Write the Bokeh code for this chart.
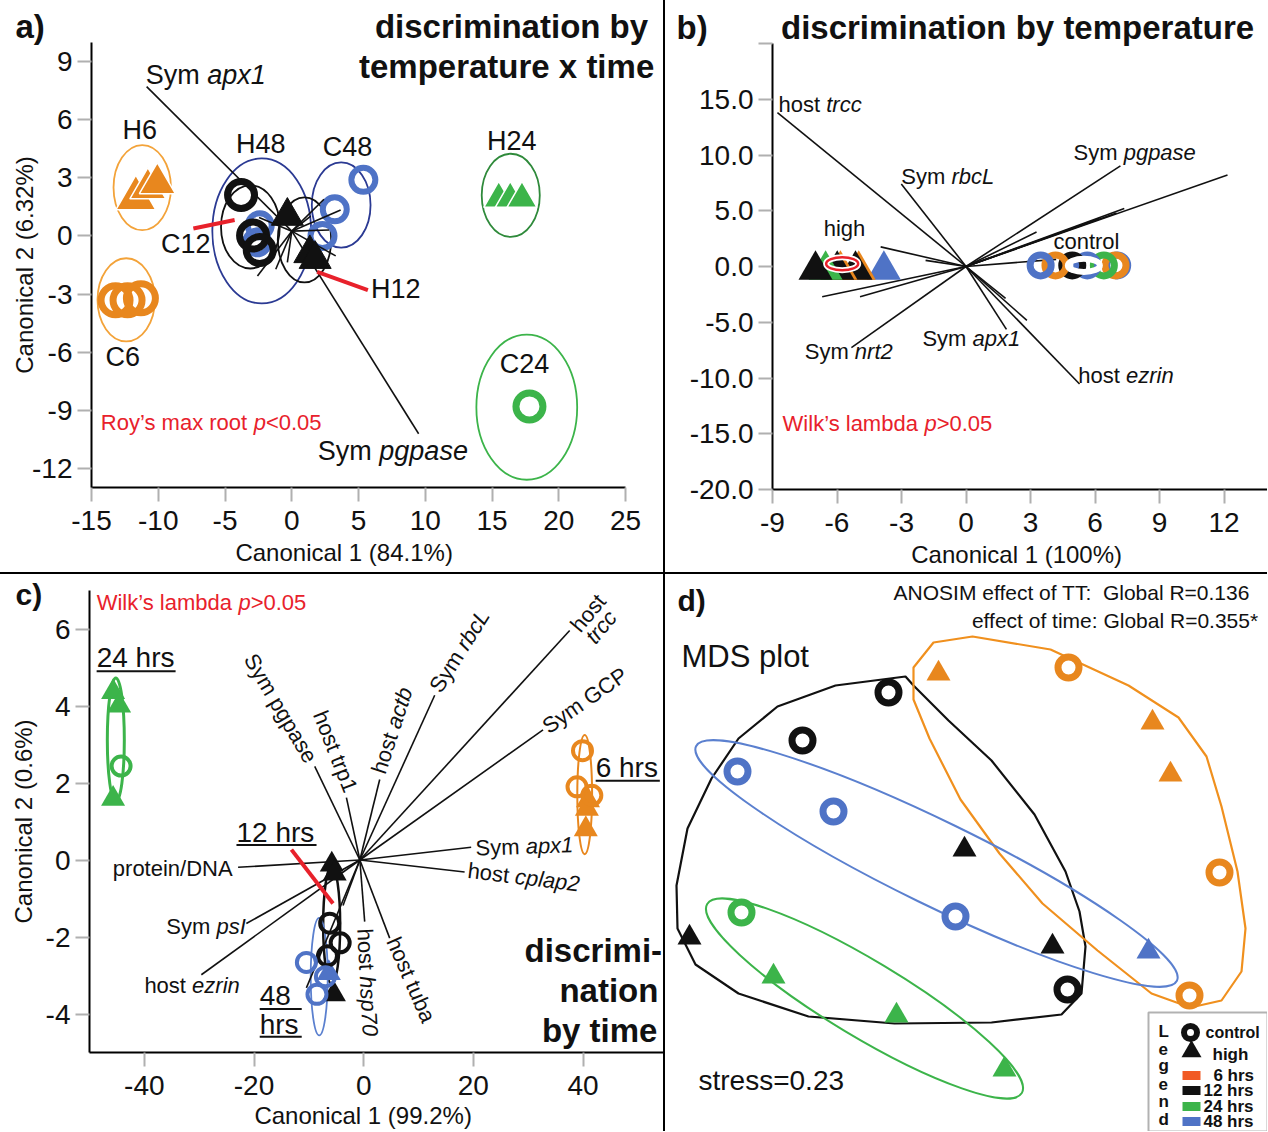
import math
from bokeh.plotting import figure
from bokeh.models import Label, Range1d, FixedTicker, BoxAnnotation, Div, LinearAxis
from bokeh.layouts import row, column
from bokeh.embed import file_html
from bokeh.resources import INLINE

FONT = "Liberation Sans"
BLACK = "#111111"
ORANGE = "#e8871e"
ORANGE_LINE = "#f3a33a"
GREEN = "#3cb44a"
GREEN_DARK = "#2f8a3b"
BLUE = "#4f73c6"
NAVY = "#2b3a93"
LBLUE = "#5b80cf"
RED = "#e8212b"
TICK = "#b0b0b0"
TIME_COLOR = {"6 hrs": ORANGE, "12 hrs": BLACK, "24 hrs": GREEN, "48 hrs": BLUE}

# ---------------- panel a data ----------------
A_XTICKS = [-15, -10, -5, 0, 5, 10, 15, 20, 25]
A_YTICKS = [-12, -9, -6, -3, 0, 3, 6, 9]
A_H6_X = [-11.68, -10.78, -10.07]
A_H6_Y = [1.95, 2.46, 2.72]
A_C6_X = [-13.2, -12.3, -11.3]
A_C6_Y = [-3.32, -3.32, -3.22]
A_C48_X = [3.22, 5.36, 2.3, -2.4, -2.6]
A_C48_Y = [1.38, 2.9, 0.0, 0.55, -0.33]
A_C12_X = [-3.8, -2.9, -2.4]
A_C12_Y = [2.12, 0.02, -0.73]
A_H12_X = [-0.33, 1.35, 1.75]
A_H12_Y = [1.03, -0.9, -1.2]
A_H24_X = [15.5, 16.36, 17.24]
A_H24_Y = [1.93, 1.93, 1.93]
A_C24_X = [17.8]
A_C24_Y = [-8.81]
A_ELL_GROUP = ["H6", "C6", "H48", "C48", "C12", "H12", "H24", "C24"]
A_ELL_X = [-11.2, -12.4, -2.25, 3.7, -3.1, 0.95, 16.4, 17.6]
A_ELL_Y = [2.5, -3.3, 0.26, 1.6, 0.47, -0.2, 2.1, -8.85]
A_ELL_W = [4.3, 4.3, 7.4, 4.4, 4.4, 4.0, 4.35, 7.55]
A_ELL_H = [4.4, 4.3, 7.5, 4.4, 4.3, 4.4, 4.3, 7.5]
A_ORIGIN = (0.0, 0.25)
A_VEC_X = [-10.87, 9.5, 2.41, 3.66, 2.79, 3.29, -2.45, -2.57, -1.2, -0.33, 1.42]
A_VEC_Y = [7.72, -10.22, 1.9, 1.34, 0.31, -1.03, 0.95, -2.07, -1.72, -1.37, 1.03]
A_PTR_X0 = [-7.37, 1.9]
A_PTR_Y0 = [0.39, -1.86]
A_PTR_X1 = [-4.28, 5.7]
A_PTR_Y1 = [0.83, -2.8]

# ---------------- panel b data ----------------
B_XTICKS = [-9, -6, -3, 0, 3, 6, 9, 12]
B_YTICKS = [-20, -15, -10, -5, 0, 5, 10, 15, 20]
B_YLABELS = ["-20.0", "-15.0", "-10.0", "-5.0", "0.0", "5.0", "10.0", "15.0", ""]
B_HIGH_X = [-3.82, -4.99, -5.14, -5.84, -5.99, -6.53, -7.0]
B_HIGH_T = ["48 hrs", "6 hrs", "12 hrs", "6 hrs", "12 hrs", "24 hrs", "12 hrs"]
B_HIGH_Y = [-0.3] * 7
B_CTRL_X = [7.03, 6.95, 6.41, 5.64, 4.94, 4.16, 3.47]
B_CTRL_T = ["48 hrs", "6 hrs", "24 hrs", "48 hrs", "12 hrs", "6 hrs", "48 hrs"]
B_CTRL_Y = [0.1] * 7
B_VEC_X = [-8.77, -3.01, 7.18, 12.16, 7.36, 7.0, 6.2, 3.28, 4.19, -3.97, -1.88, -6.69, -4.93,
           -5.33, 1.88, 5.28, 2.83, 1.84]
B_VEC_Y = [13.8, 7.4, 9.02, 8.21, 5.21, 4.8, 4.3, 3.09, 0.64, 1.76, 0.55, -2.72, -2.72,
           -7.28, -5.64, -10.54, -4.83, -2.86]

# ---------------- panel c data ----------------
C_XTICKS = [-40, -20, 0, 20, 40]
C_YTICKS = [-4, -2, 0, 2, 4, 6]
C_TRI_X = [-45.7, -44.6, -45.7, 40.7, 40.5, 40.9, -5.82, -5.29, -5.43, -6.36]
C_TRI_Y = [4.36, 4.01, 1.59, 1.33, 0.8, 1.55, -0.12, -0.35, -3.49, -2.94]
C_TRI_T = ["24 hrs"] * 3 + ["6 hrs"] * 3 + ["12 hrs"] * 3 + ["48 hrs"]
C_CIR_X = [-44.24, 39.9, 38.9, 41.6, -6.2, -4.29, -6.6, -10.45, -8.52, -6.98]
C_CIR_Y = [2.44, 2.84, 1.9, 1.68, -1.64, -2.15, -2.49, -2.66, -3.49, -3.03]
C_CIR_T = ["24 hrs"] + ["6 hrs"] * 3 + ["12 hrs"] * 3 + ["48 hrs"] * 3
C_ELL_T = ["24 hrs", "6 hrs", "12 hrs", "48 hrs"]
C_ELL_X = [-45.2, 40.3, -5.84, -8.11]
C_ELL_Y = [3.12, 1.7, -1.69, -3.03]
C_ELL_W = [3.1, 2.7, 3.1, 3.1]
C_ELL_H = [3.22, 3.1, 3.05, 3.05]
C_ORIGIN = (-0.7, 0.0)
C_VEC_X = [-8.93, -3.15, 2.92, 12.95, 37.56, 32.7, 19.6, 18.4, -22.9, -21.4, -29.6, 0.18, 4.74, -3.77, -10.45]
C_VEC_Y = [2.43, 1.62, 2.09, 4.28, 5.96, 3.38, 0.33, -0.31, -0.19, -1.65, -2.98, -1.6, -2.03, -1.18, -3.32]
C_PTR = [(-13.18, 0.27), (-5.6, -1.13)]

# ---------------- panel d data (MDS) ----------------
D_CIR_X = [-0.72, -1.58, 1.07, 1.08, 2.59, 2.29, -2.23, -1.27, -0.05, -2.19]
D_CIR_Y = [1.38, 0.90, -1.59, 1.63, -0.42, -1.65, 0.59, 0.19, -0.86, -0.82]
D_CIR_T = ["12 hrs"] * 3 + ["6 hrs"] * 3 + ["48 hrs"] * 3 + ["24 hrs"]
D_TRI_X = [0.04, 0.92, -2.71, -0.22, 1.92, 2.10, 1.88, -1.87, -0.64, 0.44]
D_TRI_Y = [-0.19, -1.16, -1.07, 1.57, 1.08, 0.56, -1.21, -1.46, -1.85, -2.39]
D_TRI_T = ["12 hrs"] * 3 + ["6 hrs"] * 3 + ["48 hrs"] + ["24 hrs"] * 3
D_HULL12_X = [-0.55, -1.25, -1.83, -2.22, -2.49, -2.73, -2.84, -2.83, -2.65, -2.22, -1.52, -0.66,
              0.31, 1.01, 1.21, 1.25, 1.19, 1.05, 0.74, 0.31, -0.12, -0.47]
D_HULL12_Y = [1.54, 1.45, 1.24, 0.92, 0.52, 0.02, -0.55, -0.98, -1.34, -1.63, -1.86, -1.93,
              -1.92, -1.84, -1.63, -1.16, -0.81, -0.41, 0.16, 0.70, 1.10, 1.45]
D_HULL6_X = [-0.47, -0.27, 0.12, 0.90, 1.68, 2.18, 2.46, 2.61, 2.77, 2.85, 2.81, 2.61, 2.30,
             1.91, 1.37, 0.82, 0.39, 0.00, -0.31, -0.47]
D_HULL6_Y = [1.63, 1.88, 1.94, 1.81, 1.45, 1.13, 0.74, 0.24, -0.41, -0.98, -1.41, -1.70, -1.77,
             -1.63, -1.20, -0.73, -0.23, 0.31, 0.92, 1.31]
D_ELL_T = ["48 hrs", "24 hrs"]
D_ELL_X = [-0.24, -0.96]
D_ELL_Y = [-0.33, -1.68]
D_ELL_W = [5.35, 3.67]
D_ELL_H = [0.84, 0.76]
D_ELL_A = [-26.0, -31.0]
LEGEND_TIMES = ["6 hrs", "12 hrs", "24 hrs", "48 hrs"]

# ---------------- helpers ----------------
CW = {' ': .278, 'a': .556, 'b': .556, 'c': .5, 'd': .556, 'e': .556, 'f': .278, 'g': .556,
      'h': .556, 'i': .222, 'j': .222, 'k': .5, 'l': .222, 'm': .833, 'n': .556, 'o': .556,
      'p': .556, 'q': .556, 'r': .333, 's': .5, 't': .278, 'u': .556, 'v': .5, 'w': .722,
      'x': .5, 'y': .5, 'z': .5, 'A': .667, 'B': .667, 'C': .722, 'D': .722, 'E': .667,
      'G': .778, 'H': .722, 'I': .278, 'L': .556, 'M': .833, 'N': .722, 'O': .778, 'P': .667,
      'R': .722, 'S': .667, 'T': .611, 'W': .944, '.': .278, '-': .333, '(': .333, ')': .333,
      '%': .889, '/': .278, '<': .584, '>': .584, '=': .584, '*': .389, ':': .278, '\u2019': .222,
      '\u00a0': .278}
NBSP = "\u00a0"


def tw(s, size, bold=False):
    return sum(CW.get(c, .556) for c in s) * size * (1.06 if bold else 1.0)


def rich(p, x, y, segs, size, color=BLACK, align="left", angle=0.0, bold=False):
    widths = [tw(t, size, bold) for t, _ in segs]
    total = sum(widths)
    off = {"left": 0.0, "center": -total / 2, "right": -total}[align]
    a = math.radians(angle)
    for (t, it), w in zip(segs, widths):
        style = ("bold " if bold else "") + ("italic" if it else "")
        style = style.strip() or "normal"
        p.add_layout(Label(x=x, y=y, text=t, x_offset=off * math.cos(a), y_offset=off * math.sin(a),
                           angle=a, text_align="left", text_baseline="middle", text_font=FONT,
                           text_font_size=f"{size}px", text_font_style=style, text_color=color))
        off += w


def txt(p, x, y, s, size, color=BLACK, align="left", angle=0.0, bold=False):
    rich(p, x, y, [(s, False)], size, color, align, angle, bold)


def base_fig(w, h, xr, yr, lb, rb, tb, bb, axes=True):
    kw = {}
    if not axes:
        kw = dict(x_axis_type=None, y_axis_type=None)
    p = figure(width=w, height=h, x_range=Range1d(*xr), y_range=Range1d(*yr),
               output_backend="svg", toolbar_location=None,
               min_border_left=lb, min_border_right=rb, min_border_top=tb, min_border_bottom=bb, **kw)
    p.frame_align = False
    p.grid.visible = False
    p.outline_line_color = None
    p.background_fill_color = "white"
    p.border_fill_color = "white"
    return p


def style_axes(p, xt, xl, yt, yl):
    p.xaxis.ticker = FixedTicker(ticks=xt)
    p.yaxis.ticker = FixedTicker(ticks=yt)
    p.xaxis.major_label_overrides = dict(zip(xt, xl))
    p.yaxis.major_label_overrides = dict(zip(yt, yl))
    for ax in (p.xaxis[0], p.yaxis[0]):
        ax.axis_line_color = "black"
        ax.axis_line_width = 2
        ax.major_tick_line_color = TICK
        ax.major_tick_line_width = 2
        ax.major_tick_out = 14
        ax.major_tick_in = 0
        ax.minor_tick_line_color = None
        ax.major_label_text_font = FONT
        ax.major_label_text_font_size = "28px"
        ax.major_label_text_color = BLACK
        ax.major_label_standoff = 5
        ax.axis_label_text_font = FONT
        ax.axis_label_text_font_size = "24px"
        ax.axis_label_text_font_style = "normal"
        ax.axis_label_text_color = BLACK
    p.xaxis.major_label_standoff = 9


def label_axis(p, side, text, bounds, standoff):
    ax = LinearAxis(ticker=FixedTicker(ticks=[]), bounds=bounds, axis_label=text,
                    axis_line_color=None, major_tick_line_color=None, minor_tick_line_color=None,
                    major_tick_out=0, major_tick_in=0, major_label_standoff=0,
                    axis_label_standoff=standoff, axis_label_text_font=FONT,
                    axis_label_text_font_size="24px", axis_label_text_font_style="normal",
                    axis_label_text_color=BLACK)
    p.add_layout(ax, side)


def set_title(p, text, size, offset, standoff):
    p.title.text = text
    p.title.align = "left"
    p.title.offset = offset
    p.title.standoff = standoff
    p.title.vertical_align = "bottom"
    p.title.text_font = FONT
    p.title.text_font_size = f"{size}px"
    p.title.text_font_style = "bold"
    p.title.text_color = BLACK


# ================= panel a =================
pa = base_fig(663, 572, (-15, 27.84), (-13, 10), 91, 0, 42, 85)
style_axes(pa, A_XTICKS, [str(v) for v in A_XTICKS], A_YTICKS, [str(v) for v in A_YTICKS])
pa.xaxis.bounds = (-15, 25)
pa.yaxis.bounds = (-13, 10)
pa.yaxis.axis_label = "Canonical 2 (6.32%)"
pa.yaxis.axis_label_standoff = -9
label_axis(pa, "below", "Canonical 1 (84.1%)" + NBSP * 10, (-15, 25), 6)
set_title(pa, "a)" + NBSP * 36 + "discrimination by", 33, -76, -4)

ell_col_a = {"H6": ORANGE_LINE, "C6": ORANGE_LINE, "H48": NAVY, "C48": NAVY, "C12": BLACK,
             "H12": BLACK, "H24": GREEN_DARK, "C24": GREEN}
pa.ellipse(A_ELL_X, A_ELL_Y, width=A_ELL_W, height=A_ELL_H, fill_color=None,
           line_color=[ell_col_a[g] for g in A_ELL_GROUP], line_width=1.8)
pa.scatter(A_C48_X, A_C48_Y, marker="circle", size=24, fill_color=None, line_color=BLUE, line_width=6)
pa.segment([A_ORIGIN[0]] * len(A_VEC_X), [A_ORIGIN[1]] * len(A_VEC_Y), A_VEC_X, A_VEC_Y,
           line_color=BLACK, line_width=1.6)
pa.scatter(A_C12_X, A_C12_Y, marker="circle", size=27, fill_color=None, line_color=BLACK, line_width=7)
pa.scatter(A_H12_X, A_H12_Y, marker="triangle", size=32, fill_color=BLACK, line_color=BLACK)
pa.scatter(A_H6_X, A_H6_Y, marker="triangle", size=[40, 36, 36], fill_color=ORANGE,
           line_color="white", line_width=1.5)
pa.scatter(A_C6_X, A_C6_Y, marker="circle", size=29, fill_color=None, line_color=ORANGE, line_width=7)
pa.scatter(A_H24_X, A_H24_Y, marker="triangle", size=30, fill_color=GREEN, line_color="white",
           line_width=1.5)
pa.scatter(A_C24_X, A_C24_Y, marker="circle", size=27, fill_color=None, line_color=GREEN, line_width=7)
pa.segment(A_PTR_X0, A_PTR_Y0, A_PTR_X1, A_PTR_Y1, line_color=RED, line_width=4)

txt(pa, 26.87, 8.77, "temperature x time", 33, align="right", bold=True)
rich(pa, -10.94, 8.3, [("Sym ", False), ("apx1", True)], 27)
rich(pa, 1.95, -11.12, [("Sym ", False), ("pgpase", True)], 27)
for name, lx, ly in [("H6", -11.38, 5.46), ("C6", -12.66, -6.27), ("H48", -2.33, 4.74),
                     ("C48", 4.18, 4.58), ("C12", -7.94, -0.43), ("H12", 7.78, -2.75),
                     ("H24", 16.47, 4.89), ("C24", 17.43, -6.63)]:
    txt(pa, lx, ly, name, 27, align="center")
rich(pa, -14.3, -9.63, [("Roy\u2019s max root ", False), ("p", True), ("<0.05", False)], 22, color=RED)

# ================= panel b =================
pb = base_fig(602, 572, (-9, 14.02), (-20, 20), 107, 0, 43, 83)
style_axes(pb, B_XTICKS, [str(v) for v in B_XTICKS], B_YTICKS, B_YLABELS)
pb.xaxis.axis_label = "Canonical 1 (100%)" + NBSP
pb.xaxis.axis_label_standoff = 6
set_title(pb, "b)" + NBSP * 8 + "discrimination by temperature", 33, -96, -4)

pb.segment([0] * len(B_VEC_X), [0] * len(B_VEC_Y), B_VEC_X, B_VEC_Y, line_color=BLACK, line_width=1.6)
pb.scatter(B_HIGH_X, B_HIGH_Y, marker="triangle", size=34,
           fill_color=[TIME_COLOR[t] for t in B_HIGH_T], line_color=None)
pb.ellipse([-5.76], [0.25], width=1.49, height=1.17, fill_color=None, line_color="white", line_width=6)
pb.ellipse([-5.76], [0.25], width=1.49, height=1.17, fill_color=None, line_color=RED, line_width=2.5)
pb.scatter(B_CTRL_X, B_CTRL_Y, marker="circle", size=21, fill_color=None,
           line_color=[TIME_COLOR[t] for t in B_CTRL_T], line_width=7)
pb.ellipse([5.48], [0.1], width=1.49, height=1.17, fill_color=None, line_color="white", line_width=6)

rich(pb, -8.72, 14.53, [("host ", False), ("trcc", True)], 22)
rich(pb, -3.01, 8.06, [("Sym ", False), ("rbcL", True)], 22)
rich(pb, 5.0, 10.23, [("Sym ", False), ("pgpase", True)], 22)
txt(pb, -5.65, 3.42, "high", 22, align="center")
txt(pb, 5.6, 2.25, "control", 22, align="center")
rich(pb, -7.5, -7.61, [("Sym ", False), ("nrt2", True)], 22)
rich(pb, -2.03, -6.45, [("Sym ", False), ("apx1", True)], 22)
rich(pb, 5.22, -9.77, [("host ", False), ("ezrin", True)], 22)
rich(pb, -8.53, -14.07, [("Wilk\u2019s lambda ", False), ("p", True), (">0.05", False)], 22, color=RED)

# ================= panel c =================
pc = base_fig(663, 557, (-50, 54.67), (-5, 7), 89, 0, 16, 77)
style_axes(pc, C_XTICKS, [str(v) for v in C_XTICKS], C_YTICKS, [str(v) for v in C_YTICKS])
pc.yaxis.axis_label = "Canonical 2 (0.6%)"
pc.yaxis.axis_label_standoff = 6
label_axis(pc, "below", "Canonical 1 (99.2%)" + NBSP * 4, (-50, 50), 4)
set_title(pc, "c)", 30, -74, -40)

ell_col_c = {"24 hrs": GREEN, "6 hrs": ORANGE, "12 hrs": BLACK, "48 hrs": LBLUE}
pc.ellipse(C_ELL_X, C_ELL_Y, width=C_ELL_W, height=C_ELL_H, fill_color=None,
           line_color=[ell_col_c[t] for t in C_ELL_T], line_width=[3, 2, 2.5, 1.8])
pc.segment([C_ORIGIN[0]] * len(C_VEC_X), [C_ORIGIN[1]] * len(C_VEC_Y), C_VEC_X, C_VEC_Y,
           line_color=BLACK, line_width=1.6)
pc.scatter(C_TRI_X, C_TRI_Y, marker="triangle", size=24,
           fill_color=[TIME_COLOR[t] for t in C_TRI_T], line_color=None)
pc.scatter(C_CIR_X, C_CIR_Y, marker="circle", size=19, fill_color=None,
           line_color=[TIME_COLOR[t] for t in C_CIR_T], line_width=4)
pc.segment([C_PTR[0][0]], [C_PTR[0][1]], [C_PTR[1][0]], [C_PTR[1][1]], line_color=RED, line_width=4)

rich(pc, -48.7, 6.7, [("Wilk\u2019s lambda ", False), ("p", True), (">0.05", False)], 22, color=RED)
txt(pc, -48.7, 5.26, "24 hrs", 28)
txt(pc, 42.3, 2.4, "6 hrs", 28)
txt(pc, -23.2, 0.72, "12 hrs", 28)
txt(pc, -18.96, -3.53, "48", 28)
txt(pc, -18.96, -4.26, "hrs", 28)
pc.segment([-48.7, 42.3, -23.2, -18.96, -18.96], [4.9, 2.06, 0.39, -3.87, -4.59],
           [-34.3, 54.0, -8.6, -11.3, -11.3], [4.9, 2.06, 0.39, -3.87, -4.59],
           line_color=BLACK, line_width=2)
txt(pc, -23.9, -0.23, "protein/DNA", 22, align="right")
rich(pc, -21.5, -1.72, [("Sym ", False), ("psI", True)], 22, align="right")
rich(pc, -22.6, -3.27, [("host ", False), ("ezrin", True)], 22, align="right")
rich(pc, 20.4, 0.31, [("Sym ", False), ("apx1", True)], 22, angle=2)
rich(pc, 19.0, -0.27, [("host ", False), ("cplap2", True)], 22, angle=-7)
txt(pc, -20.8, 5.31, "Sym pgpase", 22, angle=-59.5)
txt(pc, -8.02, 3.85, "host trp1", 22, angle=-68.4)
rich(pc, 2.61, 2.26, [("host ", False), ("actb", True)], 22, angle=71.9)
rich(pc, 12.95, 4.41, [("Sym ", False), ("rbcL", True)], 22, angle=57.8)
txt(pc, 38.5, 6.0, "host", 22, angle=50)
rich(pc, 41.2, 5.7, [("trcc", True)], 22, angle=50)
txt(pc, 33.0, 3.42, "Sym GCP", 22, angle=34.8)
rich(pc, 0.18, -1.78, [("host ", False), ("hsp70", True)], 22, angle=-87)
txt(pc, 5.34, -2.03, "host tuba", 22, angle=-66.4)
txt(pc, 53.06, -2.35, "discrimi-", 33, align="right", bold=True)
txt(pc, 53.06, -3.4, "nation", 33, align="right", bold=True)
txt(pc, 53.06, -4.44, "by time", 33, align="right", bold=True)

# ================= panel d =================
pd_ = base_fig(602, 557, (-2.95, 3.07), (-3.01, 2.56), 0, 0, 0, 0, axes=False)
pd_.add_layout(BoxAnnotation(left=1.88, top=-1.82, fill_color="white", fill_alpha=1.0,
                             line_color="black", line_width=2, level="underlay"))
pd_.patch(D_HULL12_X, D_HULL12_Y, fill_color=None, line_color=BLACK, line_width=2.2)
pd_.patch(D_HULL6_X, D_HULL6_Y, fill_color=None, line_color="#f0901e", line_width=2.2)
pd_.ellipse(D_ELL_X, D_ELL_Y, width=D_ELL_W, height=D_ELL_H, angle=D_ELL_A, angle_units="deg",
            fill_color=None, line_color=[LBLUE, GREEN], line_width=2)
pd_.scatter(D_TRI_X, D_TRI_Y, marker="triangle", size=24,
            fill_color=[TIME_COLOR[t] for t in D_TRI_T], line_color=None)
pd_.scatter(D_CIR_X, D_CIR_Y, marker="circle", size=21, fill_color="white",
            line_color=[TIME_COLOR[t] for t in D_CIR_T], line_width=7)

txt(pd_, -2.83, 2.30, "d)", 30, bold=True)
txt(pd_, 2.92, 2.38, "ANOSIM effect of TT:" + NBSP + " Global R=0.136", 21, align="right")
txt(pd_, 2.98, 2.10, "effect of time: Global R=0.355*", 21, align="right")
txt(pd_, -2.79, 1.74, "MDS plot", 31)
txt(pd_, -2.62, -2.5, "stress=0.23", 28)

for ch, ly in zip("Legend", [-2.01, -2.18, -2.35, -2.53, -2.71, -2.89]):
    txt(pd_, 2.03, ly, ch, 17, align="center", bold=True)
pd_.scatter([2.30], [-2.02], marker="circle", size=13, fill_color="white", line_color=BLACK, line_width=6)
pd_.scatter([2.31], [-2.21], marker="triangle", size=20, fill_color=BLACK, line_color=None)
txt(pd_, 2.45, -2.02, "control", 16, bold=True)
txt(pd_, 2.52, -2.24, "high", 17, bold=True)
LEG_Y = [-2.45, -2.60, -2.76, -2.91]
LEG_C = {"6 hrs": "#f15a24", "12 hrs": BLACK, "24 hrs": GREEN, "48 hrs": BLUE}
pd_.rect([2.31] * 4, LEG_Y, width=0.18, height=0.09, fill_color=[LEG_C[t] for t in LEGEND_TIMES],
         line_color=None)
for t, ly in zip(LEGEND_TIMES, LEG_Y):
    txt(pd_, 2.93, ly, t, 17, align="right", bold=True)

# ================= layout =================
def bar(w, h):
    return Div(width=w, height=h, margin=0, styles={"background-color": "black"})

layout = column(
    row(pa, bar(2, 572), pb, spacing=0),
    bar(1267, 2),
    row(pc, bar(2, 557), pd_, spacing=0),
    spacing=0,
)

with open("out.html", "w") as f:
    f.write(file_html(layout, INLINE))
